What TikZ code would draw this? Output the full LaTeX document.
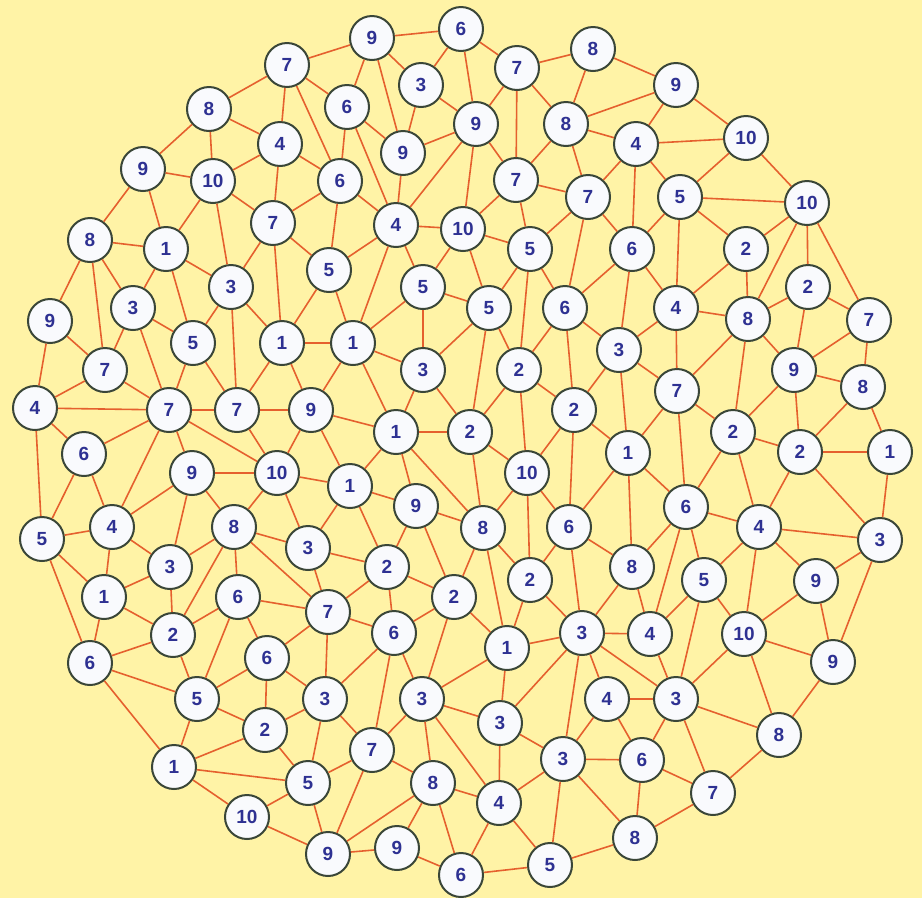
\documentclass[tikz,border=0pt]{standalone}
\usepackage{fontspec}
\setmainfont{Liberation Sans}
\definecolor{bgyel}{HTML}{FFF3A6}
\definecolor{edgecol}{HTML}{E5602E}
\definecolor{nodeborder}{HTML}{3A4638}
\definecolor{numblue}{HTML}{2E3192}
\definecolor{nodefill}{HTML}{F9FAFD}
\begin{document}
\begin{tikzpicture}[x=1pt,y={(0pt,-1pt)},
  nd/.style={circle,draw=nodeborder,line width=2pt,fill=nodefill,minimum size=44pt,inner sep=0pt,
    font=\fontsize{19}{19}\selectfont\bfseries,text=numblue},
  edge/.style={draw=edgecol,line width=1.6pt}]
\useasboundingbox (0,0) rectangle (922,898);
\fill[bgyel] (0,0) rectangle (922,898);
\node[nd] (a1) at (372,38) {9};
\node[nd] (a2) at (461,29) {6};
\node[nd] (a3) at (287,65) {7};
\node[nd] (a4) at (517,68) {7};
\node[nd] (a5) at (593,49) {8};
\node[nd] (a6) at (676,85) {9};
\node[nd] (a7) at (421,85) {3};
\node[nd] (a8) at (347,107) {6};
\node[nd] (a9) at (209,109) {8};
\node[nd] (a10) at (476,124) {9};
\node[nd] (a11) at (566,124) {8};
\node[nd] (a12) at (636,144) {4};
\node[nd] (a13) at (746,138) {10};
\node[nd] (a14) at (280,144) {4};
\node[nd] (a15) at (403,153) {9};
\node[nd] (a16) at (143,169) {9};
\node[nd] (a17) at (213,181) {10};
\node[nd] (a18) at (340,181) {6};
\node[nd] (a19) at (516,180) {7};
\node[nd] (a20) at (588,197) {7};
\node[nd] (a21) at (680,197) {5};
\node[nd] (a22) at (807,203) {10};
\node[nd] (a23) at (273,223) {7};
\node[nd] (a24) at (396,225) {4};
\node[nd] (a25) at (463,229) {10};
\node[nd] (a26) at (90,240) {8};
\node[nd] (a27) at (166,249) {1};
\node[nd] (a28) at (530,249) {5};
\node[nd] (a29) at (632,249) {6};
\node[nd] (a30) at (746,249) {2};
\node[nd] (a31) at (329,270) {5};
\node[nd] (a32) at (231,287) {3};
\node[nd] (a33) at (423,287) {5};
\node[nd] (a34) at (489,308) {5};
\node[nd] (a35) at (808,287) {2};
\node[nd] (a36) at (133,308) {3};
\node[nd] (a37) at (50,321) {9};
\node[nd] (a38) at (565,308) {6};
\node[nd] (a39) at (676,308) {4};
\node[nd] (a40) at (748,319) {8};
\node[nd] (a41) at (869,320) {7};
\node[nd] (a42) at (193,343) {5};
\node[nd] (a43) at (282,343) {1};
\node[nd] (a44) at (353,343) {1};
\node[nd] (a45) at (619,350) {3};
\node[nd] (a46) at (519,370) {2};
\node[nd] (a47) at (423,370) {3};
\node[nd] (a48) at (794,370) {9};
\node[nd] (a49) at (105,370) {7};
\node[nd] (a50) at (863,387) {8};
\node[nd] (a51) at (677,391) {7};
\node[nd] (a52) at (35,408) {4};
\node[nd] (a53) at (169,410) {7};
\node[nd] (a54) at (237,410) {7};
\node[nd] (a55) at (311,410) {9};
\node[nd] (a56) at (574,410) {2};
\node[nd] (a57) at (396,432) {1};
\node[nd] (a58) at (470,432) {2};
\node[nd] (a59) at (733,432) {2};
\node[nd] (a60) at (890,452) {1};
\node[nd] (a61) at (800,452) {2};
\node[nd] (a62) at (84,454) {6};
\node[nd] (a63) at (628,453) {1};
\node[nd] (a64) at (527,473) {10};
\node[nd] (a65) at (192,473) {9};
\node[nd] (a66) at (277,473) {10};
\node[nd] (a67) at (350,486) {1};
\node[nd] (a68) at (416,506) {9};
\node[nd] (a69) at (686,507) {6};
\node[nd] (a70) at (112,527) {4};
\node[nd] (a71) at (234,527) {8};
\node[nd] (a72) at (483,528) {8};
\node[nd] (a73) at (569,527) {6};
\node[nd] (a74) at (759,527) {4};
\node[nd] (a75) at (42,539) {5};
\node[nd] (a76) at (880,540) {3};
\node[nd] (a77) at (308,548) {3};
\node[nd] (a78) at (170,567) {3};
\node[nd] (a79) at (632,567) {8};
\node[nd] (a80) at (387,567) {2};
\node[nd] (a81) at (530,580) {2};
\node[nd] (a82) at (816,581) {9};
\node[nd] (a83) at (104,597) {1};
\node[nd] (a84) at (704,580) {5};
\node[nd] (a85) at (238,597) {6};
\node[nd] (a86) at (454,597) {2};
\node[nd] (a87) at (328,612) {7};
\node[nd] (a88) at (173,635) {2};
\node[nd] (a89) at (744,634) {10};
\node[nd] (a90) at (582,633) {3};
\node[nd] (a91) at (650,634) {4};
\node[nd] (a92) at (394,633) {6};
\node[nd] (a93) at (507,648) {1};
\node[nd] (a94) at (267,658) {6};
\node[nd] (a95) at (90,663) {6};
\node[nd] (a96) at (833,662) {9};
\node[nd] (a97) at (607,699) {4};
\node[nd] (a98) at (676,699) {3};
\node[nd] (a99) at (197,699) {5};
\node[nd] (a100) at (325,699) {3};
\node[nd] (a101) at (422,699) {3};
\node[nd] (a102) at (500,723) {3};
\node[nd] (a103) at (265,730) {2};
\node[nd] (a104) at (779,735) {8};
\node[nd] (a105) at (372,750) {7};
\node[nd] (a106) at (563,759) {3};
\node[nd] (a107) at (642,760) {6};
\node[nd] (a108) at (174,767) {1};
\node[nd] (a109) at (308,783) {5};
\node[nd] (a110) at (433,783) {8};
\node[nd] (a111) at (713,793) {7};
\node[nd] (a112) at (499,803) {4};
\node[nd] (a113) at (247,817) {10};
\node[nd] (a114) at (635,838) {8};
\node[nd] (a115) at (328,854) {9};
\node[nd] (a116) at (397,848) {9};
\node[nd] (a117) at (550,865) {5};
\node[nd] (a118) at (461,875) {6};
\foreach \a/\b in {a1/a2,a1/a3,a1/a8,a1/a7,a1/a15,
 a2/a7,a2/a10,a2/a4,
 a3/a9,a3/a14,a3/a8,a3/a18,
 a4/a5,a4/a10,a4/a19,a4/a11,
 a5/a11,a5/a6,
 a6/a11,a6/a13,a6/a12,
 a7/a15,a7/a10,
 a8/a18,a8/a15,a8/a24,
 a9/a14,a9/a17,a9/a16,
 a10/a15,a10/a24,a10/a25,a10/a19,
 a11/a12,a11/a19,a11/a20,
 a12/a13,a12/a21,a12/a29,a12/a20,
 a13/a21,a13/a22,
 a14/a23,a14/a17,a14/a18,
 a15/a24,
 a16/a17,a16/a26,a16/a27,
 a17/a27,a17/a32,a17/a23,
 a18/a24,a18/a31,a18/a23,
 a19/a20,a19/a25,a19/a28,
 a20/a28,a20/a38,a20/a29,
 a21/a22,a21/a39,a21/a29,a21/a30,
 a22/a30,a22/a40,a22/a35,a22/a41,
 a23/a32,a23/a43,a23/a31,
 a24/a25,a24/a31,a24/a33,a24/a44,
 a25/a33,a25/a28,a25/a34,
 a26/a27,a26/a37,a26/a49,a26/a36,
 a27/a36,a27/a42,a27/a32,
 a28/a34,a28/a46,a28/a38,
 a29/a39,a29/a45,a29/a38,
 a30/a39,a30/a40,
 a31/a43,a31/a44,
 a32/a42,a32/a54,a32/a43,
 a33/a34,a33/a47,a33/a44,
 a34/a47,a34/a46,a34/a58,
 a35/a40,a35/a41,a35/a48,
 a36/a49,a36/a42,a36/a53,
 a37/a49,a37/a52,
 a38/a46,a38/a45,a38/a56,
 a39/a40,a39/a45,a39/a51,
 a40/a48,a40/a51,a40/a59,
 a41/a48,a41/a50,
 a42/a53,a42/a54,
 a43/a44,a43/a54,a43/a55,
 a44/a47,a44/a55,a44/a57,
 a45/a56,a45/a63,a45/a51,
 a46/a58,a46/a56,a46/a64,
 a47/a57,a47/a58,
 a48/a50,a48/a59,a48/a61,
 a49/a52,a49/a53,
 a50/a61,a50/a60,
 a51/a59,a51/a63,a51/a69,
 a52/a53,a52/a62,a52/a75,
 a53/a54,a53/a62,a53/a70,a53/a65,a53/a66,
 a54/a55,a54/a66,
 a55/a67,a55/a66,a55/a57,
 a56/a64,a56/a63,a56/a73,
 a57/a58,a57/a67,a57/a68,a57/a72,
 a58/a72,a58/a64,
 a59/a61,a59/a69,a59/a74,
 a60/a61,a60/a76,
 a61/a74,a61/a76,
 a62/a75,a62/a70,
 a63/a69,a63/a79,a63/a73,
 a64/a72,a64/a81,a64/a73,
 a65/a66,a65/a70,a65/a78,a65/a71,
 a66/a71,a66/a77,a66/a67,
 a67/a68,a67/a80,a67/a77,
 a68/a72,a68/a80,a68/a86,
 a69/a74,a69/a79,a69/a84,a69/a91,
 a70/a75,a70/a78,a70/a83,
 a71/a78,a71/a88,a71/a85,a71/a77,a71/a87,
 a72/a86,a72/a93,a72/a81,
 a73/a81,a73/a90,a73/a79,
 a74/a76,a74/a82,a74/a84,a74/a89,
 a75/a83,a75/a95,
 a76/a82,a76/a96,
 a77/a80,a77/a87,
 a78/a83,a78/a88,
 a79/a91,a79/a90,
 a80/a86,a80/a87,a80/a92,
 a81/a93,a81/a90,
 a82/a89,a82/a96,
 a83/a88,a83/a95,
 a84/a89,a84/a91,a84/a98,
 a85/a88,a85/a87,a85/a94,a85/a99,
 a86/a92,a86/a93,a86/a101,
 a87/a92,a87/a100,a87/a94,
 a88/a95,a88/a99,
 a89/a96,a89/a98,a89/a104,
 a90/a91,a90/a93,a90/a98,a90/a97,a90/a106,a90/a102,
 a91/a98,
 a92/a100,a92/a105,a92/a101,
 a93/a101,a93/a102,
 a94/a99,a94/a103,a94/a100,
 a95/a99,a95/a108,
 a96/a104,
 a97/a98,a97/a107,a97/a106,
 a98/a107,a98/a104,a98/a111,
 a99/a103,a99/a108,
 a100/a103,a100/a105,a100/a109,
 a101/a105,a101/a110,a101/a112,a101/a102,
 a102/a112,a102/a106,
 a103/a108,a103/a109,
 a104/a111,
 a105/a109,a105/a110,a105/a115,
 a106/a112,a106/a117,a106/a107,a106/a114,
 a107/a111,a107/a114,
 a108/a109,a108/a113,
 a109/a113,a109/a115,
 a110/a115,a110/a116,a110/a118,a110/a112,
 a111/a114,
 a112/a118,a112/a117,
 a113/a115,
 a114/a117,
 a115/a116,
 a116/a118,
 a117/a118}
 \draw[edge] (\a) -- (\b);
\end{tikzpicture}
\end{document}
